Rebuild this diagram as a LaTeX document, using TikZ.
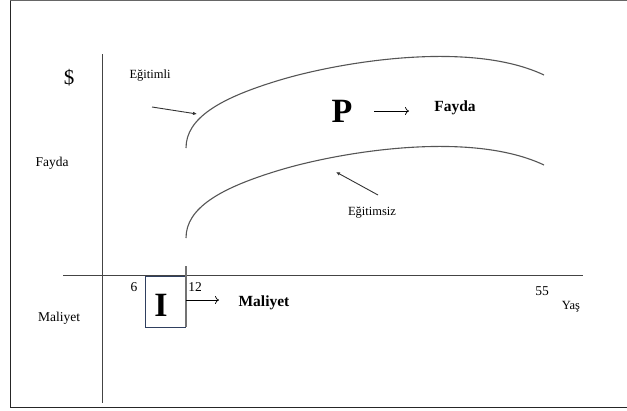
\documentclass[tikz,border=0pt]{standalone}
\usepackage{fontspec}
\setmainfont{Liberation Serif}
\usetikzlibrary{arrows.meta}
\definecolor{axisgray}{HTML}{444444}
\definecolor{curvegray}{HTML}{555555}
\definecolor{boxblue}{HTML}{2F3F5F}
\tikzset{
  lbl/.style={inner sep=0pt, font=\fontsize{12.5}{14}\selectfont},
  lblbig/.style={inner sep=0pt, font=\fontsize{13.5}{15}\selectfont},
  bold/.style={inner sep=0pt, font=\fontsize{15.5}{17}\selectfont\bfseries},
  huge/.style={inner sep=0pt, font=\fontsize{34}{36}\selectfont\bfseries},
  axis/.style={draw=axisgray, line width=0.9pt},
  curve/.style={draw=curvegray, line width=1.1pt},
  openarrow/.style={draw=black, line width=0.7pt, -{To[length=4pt,width=8pt]}},
  ptr/.style={draw=black!80, line width=0.9pt, -{Latex[length=4pt,width=3.5pt]}}
}
\begin{document}
\begin{tikzpicture}[x=1pt,y=-1pt]
\useasboundingbox (0,0) rectangle (627,410);
% frame
\draw[draw=black!60, line width=1pt] (10,0.5) -- (627,0.5);
\draw[draw=black!85, line width=1pt] (10,0.5) -- (10,407.5) -- (627,407.5);
% axes
\coordinate (vtop) at (102,54);
\coordinate (vbot) at (102,403);
\coordinate (hl) at (63,275);
\coordinate (hr) at (583,275);
\draw[axis] (vtop) -- (vbot);
\draw[axis] (hl) -- (hr);
% curves
\coordinate (u0) at (186,148);
\coordinate (u1) at (280,80);
\coordinate (u2) at (544,75);
\draw[curve] (u0) .. controls (186,118) and (220,98) .. (u1)
                  .. controls (340,62) and (470,40) .. (u2);
\coordinate (l0) at (186,238);
\coordinate (l1) at (280,170);
\coordinate (l2) at (544,165);
\draw[curve] (l0) .. controls (186,208) and (220,188) .. (l1)
                  .. controls (340,152) and (470,130) .. (l2);
% box I
\node[draw=boxblue, line width=0.8pt, minimum width=40pt, minimum height=51pt, inner sep=0pt, anchor=north west] (box) at (145,275.5) {};
\coordinate (ticktop) at (186,266);
\coordinate (tickbot) at (186,327);
\draw[draw=black!55, line width=1.3pt] (ticktop) -- (tickbot);
\node[huge] (I) at (161,305) {I};
% texts
\node[inner sep=0pt, font=\fontsize{21}{23}\selectfont] (dollar) at (69,78) {\$};
\node[lbl] (egitimli) at (150,76) {Eğitimli};
\node[lblbig] (faydaL) at (52,163) {Fayda};
\node[lblbig] (maliyetL) at (59,318) {Maliyet};
\node[lblbig] (six) at (134,287) {6};
\node[lblbig] (twelve) at (195,287) {12};
\node[lblbig] (fiftyfive) at (542,291) {55};
\node[lbl] (yas) at (571,307) {Yaş};
\node[huge] (P) at (342,111) {P};
\node[bold] (faydaB) at (455,108) {Fayda};
\node[bold] (maliyetB) at (264,303) {Maliyet};
\node[lbl] (egitimsiz) at (372,213) {Eğitimsiz};
% arrows
\coordinate (pa1) at (374,111);
\coordinate (pa2) at (409,111);
\draw[openarrow] (pa1) -- (pa2);
\coordinate (ia1) at (186,300);
\coordinate (ia2) at (219,300);
\draw[openarrow] (ia1) -- (ia2);
\coordinate (e1s) at (152,107);
\coordinate (e1t) at (197,114);
\draw[ptr] (e1s) -- (e1t);
\coordinate (e2s) at (378,195);
\coordinate (e2t) at (336,172);
\draw[ptr] (e2s) -- (e2t);
\end{tikzpicture}
\end{document}
